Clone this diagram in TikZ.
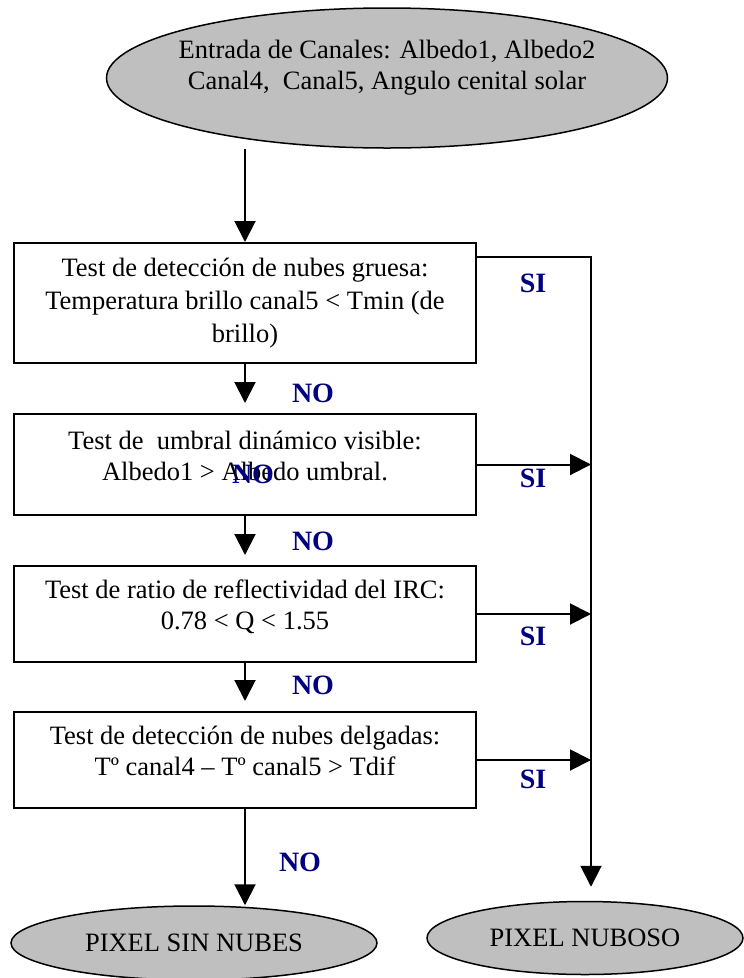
\documentclass[tikz,border=0pt]{standalone}
\usepackage{fontspec}
\setmainfont{Liberation Serif}
\usetikzlibrary{shapes.geometric, arrows.meta, positioning}
\definecolor{navy}{RGB}{0,0,128}

\begin{document}
\begin{tikzpicture}[
    x=1pt, y=1pt,
    font=\fontsize{26.5pt}{31pt}\selectfont,
    every node/.style={align=center},
    term/.style ={ellipse, draw, line width=1.5pt, fill=gray!50, inner sep=0pt},
    test/.style ={rectangle, draw, line width=2pt, minimum width=462pt, text depth=18pt},
    arr/.style  ={-{Triangle[length=21pt, width=21pt]}, line width=2pt},
    yes/.style  ={font=\fontsize{28pt}{30pt}\selectfont\bfseries, text=navy}
]
\useasboundingbox (0,0) rectangle (744,-978);

% Entrada
\node[term, minimum width=561pt, minimum height=140pt,
      label={[yshift=10pt]center:Entrada de Canales: Albedo1, Albedo2\\Canal4,\ \ Canal5, Angulo cenital solar}]
      (input) at (387,-78) {};

% Tests
\node[test, minimum height=120pt, text depth=6pt, font=\fontsize{26.5pt}{33pt}\selectfont] (grueso) at (245,-303)
      {Test de detección de nubes gruesa:\\Temperatura brillo canal5 < Tmin (de\\brillo)};
\node[test, minimum height=101pt, below=49pt of grueso] (umbral)
      {Test de\ \ umbral dinámico visible:\\Albedo1 > Albedo umbral.};
\node[test, minimum height=96pt, below=49pt of umbral] (ratio)
      {Test de ratio de reflectividad del IRC:\\0.78 < Q < 1.55};
\node[test, minimum height=96pt, below=48pt of ratio] (delgada)
      {Test de detección de nubes delgadas:\\Tº canal4 – Tº canal5 > Tdif};

% Salidas
\node[term, minimum width=366pt, minimum height=74pt] (despejado) at (194,-943) {PIXEL SIN NUBES};
\node[term, minimum width=316pt, minimum height=73pt] (nuboso) at (585,-938) {PIXEL NUBOSO};

\coordinate (bus) at (591,-257);

% entrada -> primer test
\draw[arr] (grueso.north |- input.south) -- (grueso.north);
% NO: hacia abajo
\draw[arr, shorten >=10pt] (grueso) -- (umbral);
\draw[arr, shorten >=10pt] (umbral) -- (ratio);
\draw[arr, shorten >=10pt] (ratio) -- (delgada);
\draw[arr] (delgada) -- (delgada.south |- despejado.north);
% SI: hacia la derecha
\draw[arr, shorten >=14pt] (grueso.north east |- bus) -- (bus) -- (bus |- nuboso.north);
\draw[arr] (umbral.east) -- (umbral.east -| bus);
\draw[arr] (ratio.east) -- (ratio.east -| bus);
\draw[arr] (delgada.east) -- (delgada.east -| bus);

% Etiquetas
\node[yes] at (533,-283) {SI};
\node[yes] at (533,-478) {SI};
\node[yes] at (533,-636) {SI};
\node[yes] at (533,-779) {SI};
\node[yes] at (313,-393) {NO};
\node[yes] at (253,-474) {NO};
\node[yes] at (313,-541) {NO};
\node[yes] at (313,-685) {NO};
\node[yes] at (300,-862) {NO};
\end{tikzpicture}
\end{document}
